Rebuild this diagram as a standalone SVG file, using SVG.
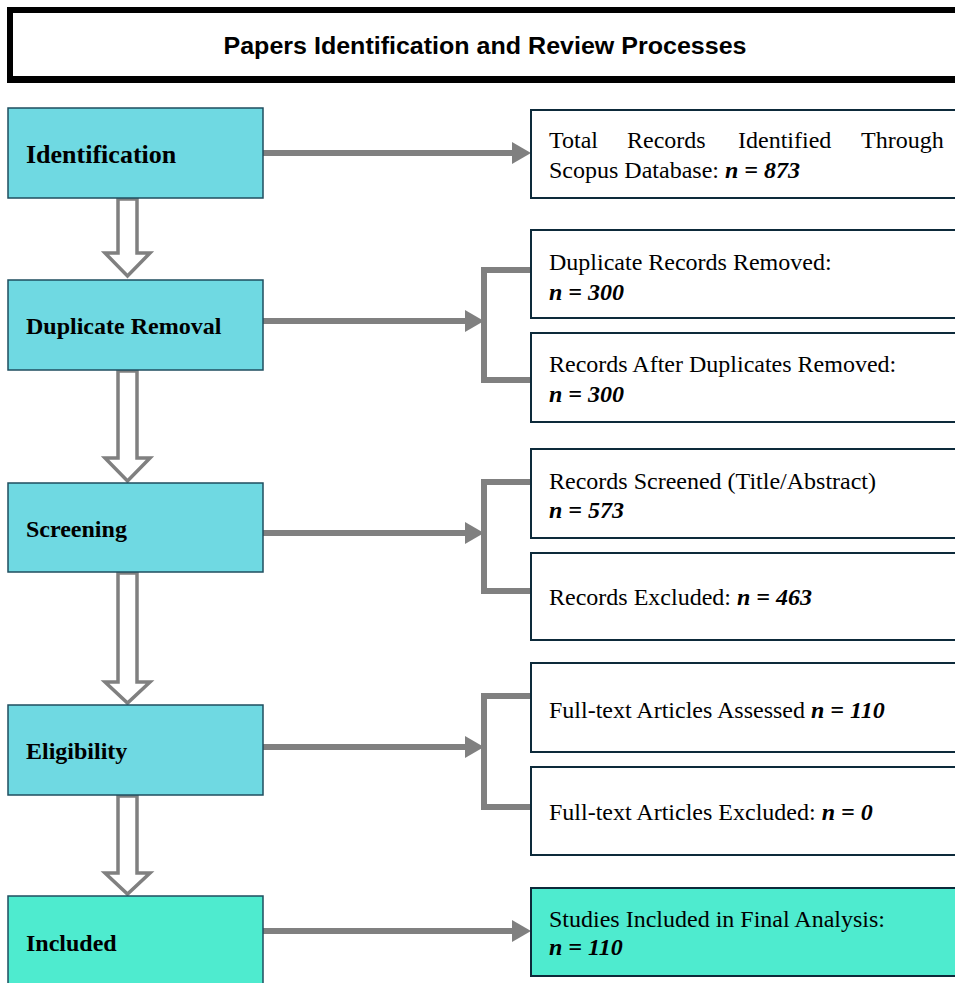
<svg xmlns="http://www.w3.org/2000/svg" width="955" height="983" viewBox="0 0 955 983">
<style>
.stage{fill:#6FD9E2;stroke:#1F4E5F;stroke-width:1.5}
.stage.inc{fill:#4EEBCF}
.box{fill:#FFFFFF;stroke:#0D2A3A;stroke-width:2}
.box.inc{fill:#4EEBCF}
.lbl{font-family:"Liberation Serif","Times New Roman",serif;font-weight:bold;font-size:24px;fill:#000}
.lbl.big{font-size:26px}
.txt{font-family:"Liberation Serif","Times New Roman",serif;font-size:24px;fill:#000}
.n{font-weight:bold;font-style:italic}
.line{fill:none;stroke:#808080;stroke-width:6}
.head{fill:#808080}
.hollow{fill:#FFFFFF;stroke:#808080;stroke-width:3.5;stroke-linejoin:miter}
</style>
<rect x="0" y="0" width="955" height="983" fill="#FFFFFF"/>
<g id="title">
<rect x="7" y="7" width="960" height="76" fill="#000"/>
<rect x="13" y="13" width="955" height="63" fill="#FFFFFF"/>
<text x="485" y="54" text-anchor="middle" font-family="'Liberation Sans',Arial,sans-serif" font-weight="bold" font-size="23" textLength="523" lengthAdjust="spacingAndGlyphs">Papers Identification and Review Processes</text>
</g>
<g id="connectors">
<path class="line" d="M263,153 H514"/>
<polygon class="head" points="512,142 531,153 512,164"/>
<path class="line" d="M263,321 H468"/>
<polygon class="head" points="465,310 484,321 465,332"/>
<path class="line" d="M531,270 H484 V380 H531"/>
<path class="line" d="M263,533 H468"/>
<polygon class="head" points="465,522 484,533 465,544"/>
<path class="line" d="M531,482 H484 V591 H531"/>
<path class="line" d="M263,747 H468"/>
<polygon class="head" points="465,736 484,747 465,758"/>
<path class="line" d="M531,696 H484 V807 H531"/>
<path class="line" d="M263,931 H514"/>
<polygon class="head" points="512,920 531,931 512,942"/>
<polygon class="hollow" points="118,199 137,199 137,253 150,253 127.5,276 105,253 118,253"/>
<polygon class="hollow" points="118,371 137,371 137,458 150,458 127.5,481 105,458 118,458"/>
<polygon class="hollow" points="118,573 137,573 137,682 150,682 127.5,703 105,682 118,682"/>
<polygon class="hollow" points="118,796 137,796 137,873 150,873 127.5,894 105,873 118,873"/>
</g>
<g id="identification">
<rect class="stage" x="8" y="108" width="255" height="90"/>
<text class="lbl big" x="26" y="163">Identification</text>
</g>
<g id="duplicate-removal">
<rect class="stage" x="8" y="280" width="255" height="90"/>
<text class="lbl" x="26" y="334">Duplicate Removal</text>
</g>
<g id="screening">
<rect class="stage" x="8" y="483" width="255" height="89"/>
<text class="lbl" x="26" y="537">Screening</text>
</g>
<g id="eligibility">
<rect class="stage" x="8" y="705" width="255" height="90"/>
<text class="lbl" x="26" y="759">Eligibility</text>
</g>
<g id="included">
<rect class="stage inc" x="8" y="896" width="255" height="95"/>
<text class="lbl" x="26" y="951">Included</text>
</g>
<g id="total-records">
<rect class="box" x="531" y="110" width="430" height="88"/>
<text class="txt" y="148"><tspan x="549">Total</tspan><tspan x="627">Records</tspan><tspan x="738">Identified</tspan><tspan x="861">Through</tspan></text>
<text class="txt" x="549" y="178">Scopus Database: <tspan class="n">n = 873</tspan></text>
</g>
<g id="duplicates-removed">
<rect class="box" x="531" y="230" width="430" height="88"/>
<text class="txt" x="549" y="270">Duplicate Records Removed:</text>
<text class="txt n" x="549" y="300">n = 300</text>
</g>
<g id="after-duplicates">
<rect class="box" x="531" y="333" width="430" height="89"/>
<text class="txt" x="549" y="372">Records After Duplicates Removed:</text>
<text class="txt n" x="549" y="402">n = 300</text>
</g>
<g id="records-screened">
<rect class="box" x="531" y="449" width="430" height="89"/>
<text class="txt" x="549" y="489">Records Screened (Title/Abstract)</text>
<text class="txt n" x="549" y="518">n = 573</text>
</g>
<g id="records-excluded">
<rect class="box" x="531" y="553" width="430" height="87"/>
<text class="txt" x="549" y="605">Records Excluded: <tspan class="n">n = 463</tspan></text>
</g>
<g id="fulltext-assessed">
<rect class="box" x="531" y="663" width="430" height="89"/>
<text class="txt" x="549" y="718">Full-text Articles Assessed <tspan class="n">n = 110</tspan></text>
</g>
<g id="fulltext-excluded">
<rect class="box" x="531" y="767" width="430" height="88"/>
<text class="txt" x="549" y="820">Full-text Articles Excluded: <tspan class="n">n = 0</tspan></text>
</g>
<g id="final-analysis">
<rect class="box inc" x="531" y="888" width="430" height="88"/>
<text class="txt" x="549" y="927">Studies Included in Final Analysis:</text>
<text class="txt n" x="549" y="955">n = 110</text>
</g>
</svg>
